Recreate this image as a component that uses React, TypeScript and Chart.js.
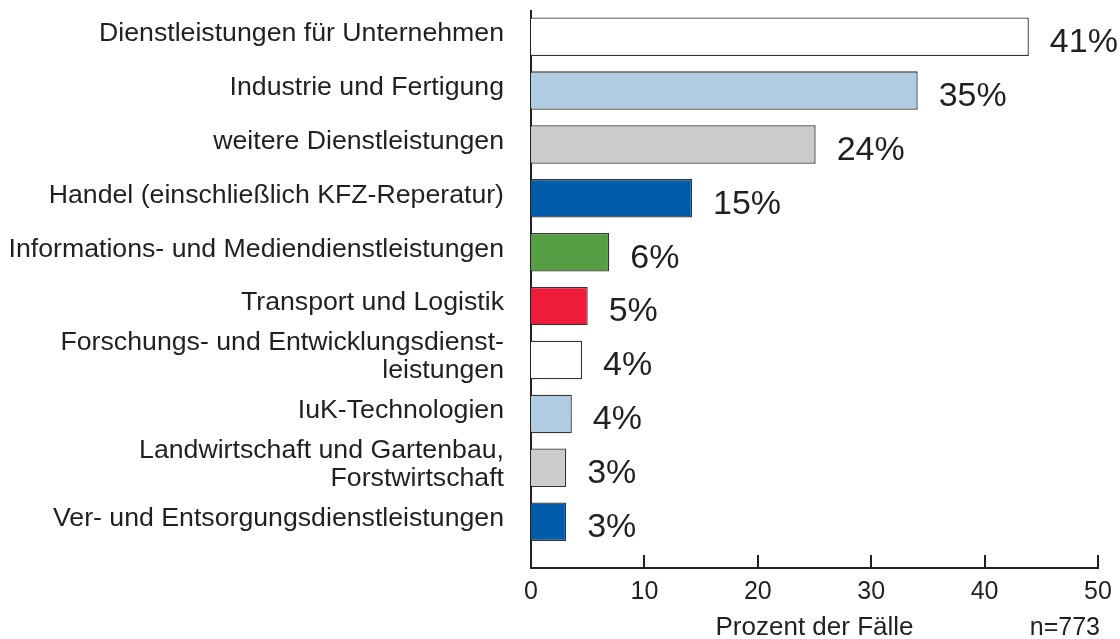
import React, { useEffect, useRef } from "react";
import { Chart, registerables } from "chart.js";

Chart.register(...registerables);

const categories: (string | string[])[] = [
  "Dienstleistungen für Unternehmen",
  "Industrie und Fertigung",
  "weitere Dienstleistungen",
  "Handel (einschließlich KFZ-Reperatur)",
  "Informations- und Mediendienstleistungen",
  "Transport und Logistik",
  ["Forschungs- und Entwicklungsdienst-", "leistungen"],
  "IuK-Technologien",
  ["Landwirtschaft und Gartenbau,", "Forstwirtschaft"],
  "Ver- und Entsorgungsdienstleistungen",
];

const values = [43.9, 34.1, 25.1, 14.2, 6.9, 5.0, 4.5, 3.6, 3.1, 3.1];

const percentLabels = ["41%", "35%", "24%", "15%", "6%", "5%", "4%", "4%", "3%", "3%"];

const barColors = [
  "#FFFFFF",
  "#B0CCE2",
  "#CCCCCC",
  "#005BAA",
  "#569E44",
  "#EE1B3A",
  "#FFFFFF",
  "#B0CCE2",
  "#CCCCCC",
  "#005BAA",
];

const xTicks = [0, 10, 20, 30, 40, 50];
const axisTitle = "Prozent der Fälle";
const sampleNote = "n=773";

const FONT = "'Liberation Sans', Arial, Helvetica, sans-serif";
const TEXT = "#231F20";

export default function App() {
  const canvasRef = useRef<HTMLCanvasElement | null>(null);

  useEffect(() => {
    const canvas = canvasRef.current;
    if (!canvas) return;

    const overlay = {
      id: "overlay",
      afterDatasetsDraw(chart: any) {
        const { ctx, chartArea, scales } = chart;
        const xs = scales.x;
        ctx.save();
        // x tick marks pointing up into the chart
        ctx.strokeStyle = TEXT;
        ctx.lineWidth = 2;
        xs.ticks.forEach((t: any) => {
          if (t.value === 0) return;
          const px = Math.round(xs.getPixelForValue(t.value));
          ctx.beginPath();
          ctx.moveTo(px, chartArea.bottom);
          ctx.lineTo(px, chartArea.bottom - 13);
          ctx.stroke();
        });
        // percent labels
        const meta = chart.getDatasetMeta(0);
        ctx.fillStyle = TEXT;
        ctx.font = `34px ${FONT}`;
        ctx.textAlign = "left";
        ctx.textBaseline = "middle";
        meta.data.forEach((bar: any, i: number) => {
          ctx.fillText(percentLabels[i], bar.x + 21, bar.y + 6);
        });
        // sample size note
        ctx.font = `25px ${FONT}`;
        ctx.textAlign = "right";
        ctx.fillText(sampleNote, chartArea.right + 2, chart.height - 11);
        ctx.restore();
      },
    };

    const chart = new Chart(canvas, {
      type: "bar",
      data: {
        datasets: [
          {
            data: values.map((v, i) => ({ x: v, y: i })),
            backgroundColor: barColors,
            borderColor: "#333333",
            borderWidth: 1.3,
            barPercentage: 0.714,
            categoryPercentage: 1,
          },
        ],
      },
      options: {
        indexAxis: "y",
        animation: false,
        responsive: true,
        maintainAspectRatio: false,
        layout: { padding: { top: 11, right: 22, left: 0, bottom: 0 } },
        plugins: {
          legend: { display: false },
          tooltip: { enabled: false },
        },
        scales: {
          x: {
            type: "linear",
            min: 0,
            max: 50,
            afterBuildTicks: (scale: any) => {
              scale.ticks = xTicks.map((v) => ({ value: v }));
            },
            afterFit: (scale: any) => {
              scale.height = 71;
              scale.paddingLeft = 0;
              scale.paddingRight = 0;
            },
            grid: { display: false, drawTicks: false },
            border: { display: true, color: TEXT, width: 2 },
            ticks: {
              padding: 9,
              color: TEXT,
              font: { family: FONT, size: 25, lineHeight: 1.2 },
              maxRotation: 0,
              autoSkip: false,
            },
            title: {
              display: true,
              text: axisTitle,
              color: TEXT,
              font: { family: FONT, size: 26, lineHeight: 0.85 },
              padding: { top: 0, bottom: 0 },
            },
          },
          y: {
            type: "linear",
            reverse: true,
            offset: false,
            bounds: "data",
            min: -0.477,
            max: 9.86,
            afterBuildTicks: (scale: any) => {
              scale.ticks = categories.map((_, i) => ({ value: i }));
            },
            afterFit: (scale: any) => {
              scale.width = 531;
              scale.paddingTop = 0;
              scale.paddingBottom = 0;
            },
            grid: { display: false, drawTicks: false, offset: false },
            border: { display: true, color: TEXT, width: 2 },
            ticks: {
              autoSkip: false,
              padding: 27,
              labelOffset: -3,
              color: TEXT,
              font: { family: FONT, size: 26.7, lineHeight: 1.04 },
              callback: (value: any) => {
                const c = categories[value as number];
                return c === undefined ? "" : c;
              },
            },
          },
        },
      },
      plugins: [overlay],
    } as any);

    return () => chart.destroy();
  }, []);

  return (
    <div style={{ position: "absolute", left: 0, top: 0, width: 1120, height: 639, background: "#fff" }}>
      <canvas ref={canvasRef} />
    </div>
  );
}
